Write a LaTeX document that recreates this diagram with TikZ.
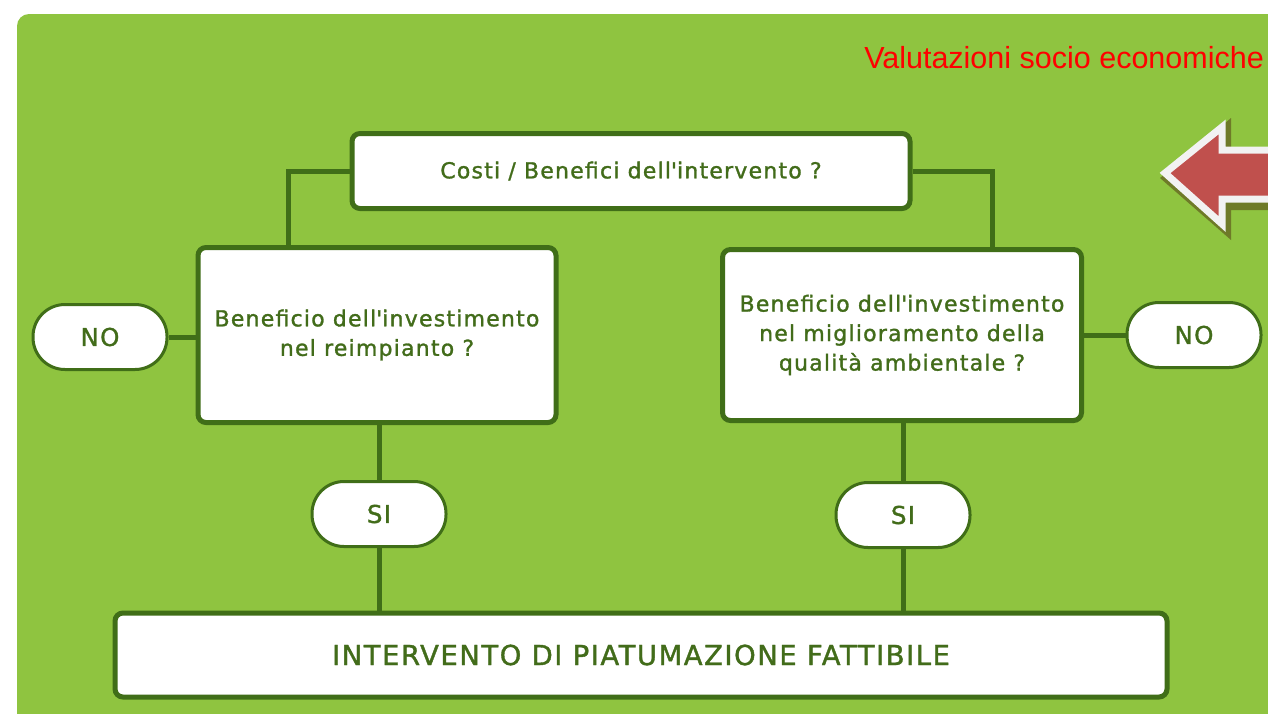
\documentclass[tikz,border=0pt]{standalone}
\usepackage{fontspec}
\setmainfont{DejaVu Sans}[LetterSpace=5.5, FakeBold=1.3]
\newfontfamily\arialfont{Liberation Sans}
\definecolor{bggreen}{RGB}{143,196,64}
\definecolor{dkgreen}{RGB}{64,110,24}
\definecolor{txgreen}{RGB}{66,108,26}
\definecolor{arrowred}{RGB}{192,80,77}
\definecolor{shadowol}{RGB}{110,122,40}
\tikzset{
  qbox/.style={draw=dkgreen, line width=5pt, fill=white, rounded corners=8pt, align=center,
    text=txgreen, font=\fontsize{22}{29.5}\selectfont, inner sep=0pt},
  pill/.style={draw=dkgreen, line width=3pt, fill=white, rounded corners=32pt,
    minimum width=134pt, minimum height=65pt, text=txgreen, font=\fontsize{24.5}{28}\selectfont, inner sep=0pt},
  conn/.style={draw=dkgreen, line width=5pt}
}
\begin{document}
\begin{tikzpicture}[x=1pt,y=-1pt]
\useasboundingbox (0,0) rectangle (1268,713);
\fill[white] (0,0) rectangle (1268,713);
\fill[bggreen, rounded corners=12pt] (17,14) rectangle (1300,740);
% title
\node[anchor=east, text=red, font=\arialfont\fontsize{30.5}{34}\selectfont, inner sep=0pt] (title) at (1264,58) {Valutazioni socio economiche};
% arrow
\fill[shadowol] (1160,178) -- (1231,118) -- (1231,148) -- (1300,148) -- (1300,210) -- (1231,210) -- (1231,240) -- cycle;
\filldraw[fill=arrowred, draw=white!95!black, line width=7pt, line join=miter]
  (1165,173) -- (1222,127) -- (1222,150) -- (1300,150) -- (1300,199) -- (1222,199) -- (1222,224) -- cycle;
% nodes
\node[qbox, minimum width=558pt, minimum height=75pt] (top) at (631,171) {Costi / Benefici dell\textquotesingle intervento ?};
\node[qbox, minimum width=358pt, minimum height=175pt] (left) at (377,335) {Beneficio dell\textquotesingle investimento\\nel reimpianto ?};
\node[qbox, minimum width=359pt, minimum height=171pt] (right) at (902,335) {Beneficio dell\textquotesingle investimento\\nel miglioramento della\\qualità ambientale ?};
\node[pill] (noL) at (100,337) {NO};
\node[pill] (noR) at (1194,335) {NO};
\node[pill] (siL) at (379,514) {SI};
\node[pill] (siR) at (903,515) {SI};
\node[qbox, minimum width=1052pt, minimum height=84pt, font=\fontsize{27.5}{30}\selectfont] (bottom) at (641,655) {INTERVENTO DI PIATUMAZIONE FATTIBILE};
% connectors
\draw[conn] (top.west) -| (288,0 |- left.north);
\draw[conn] (top.east) -| (992,0 |- right.north);
\draw[conn] (left.west |- noL.east) -- (noL.east);
\draw[conn] (right.east |- noR.west) -- (noR.west);
\draw[conn] (siL.north |- left.south) -- (siL.north);
\draw[conn] (siR.north |- right.south) -- (siR.north);
\draw[conn] (siL.south) -- (siL.south |- bottom.north);
\draw[conn] (siR.south) -- (siR.south |- bottom.north);
\end{tikzpicture}
\end{document}
